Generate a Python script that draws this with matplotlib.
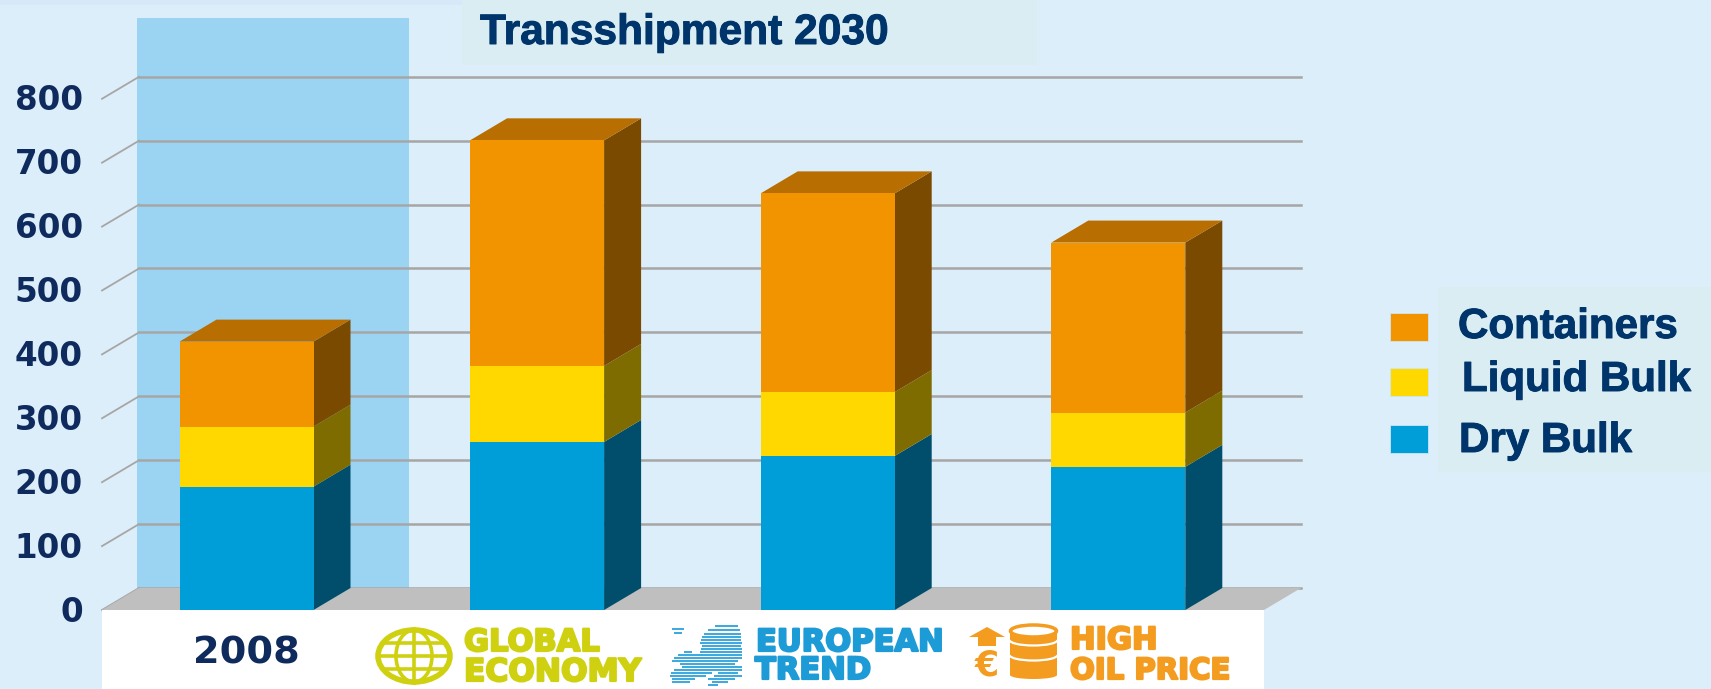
import matplotlib
matplotlib.use("Agg")
import matplotlib.pyplot as plt
import matplotlib.patheffects as pe
from matplotlib.patches import Rectangle, Ellipse, Polygon, Arc

# Datos
categorias = ["2008", "Global Economy", "European Trend", "High Oil Price"]
dry_bulk = [193, 263, 241, 224]
liquid_bulk = [94, 119, 100, 85]
containers = [133, 353, 311, 266]
ticks = [0, 100, 200, 300, 400, 500, 600, 700, 800]
series = ["Containers", "Liquid Bulk", "Dry Bulk"]

W, H = 1711, 689
AZUL_TXT = "#00356b"
AZUL_NUM = "#0f2a5c"
VERDE = "#cfd110"
AZUL = "#1c9bd6"
NARANJA = "#f39c1f"

fig = plt.figure(figsize=(W / 100, H / 100), dpi=100, facecolor="#dceefa")
plt.rcParams["font.family"] = ["Liberation Sans", "DejaVu Sans"]

# Ejes de datos: ocupan toda la figura, la escala sale de los pixeles de la referencia
px_x0, px_paso = 246.5, 290.6
px_y0, px_val = 610.0, 0.639
ax = fig.add_axes([0, 0, 1, 1])
ax.set_xlim(-px_x0 / px_paso, (W - px_x0) / px_paso)
ax.set_ylim((px_y0 - H) / px_val, px_y0 / px_val)
ax.axis("off")

dx = 37 / px_paso  # profundidad 3D
dy = 22 / px_val
ancho = 134 / px_paso
izq = (102 - px_x0) / px_paso
der = (1264 - px_x0) / px_paso

# Banda clara de 2008
ax.add_patch(Rectangle((-0.5 + dx - 0.005, dy), 272 / px_paso, (588 - 18) / px_val,
                       fc="#9bd4f2", ec="none", zorder=1))

# Lineas de la pared y marcas diagonales
for t in ticks:
    ax.plot([izq, izq + dx], [t, t + dy], color="#a6a6a6", lw=1.3, zorder=2)
    ax.plot([izq + dx, der + dx], [t + dy, t + dy], color="#a6a6a6", lw=1.8, zorder=2)
    ax.text(izq - 19 / px_paso, t - 2 / px_val, str(t), ha="right", va="center", fontsize=23.5,
            fontweight="bold", family="DejaVu Sans", color=AZUL_NUM, zorder=6)

# Suelo gris
ax.add_patch(Polygon([(izq, 0), (der, 0), (der + dx, dy), (izq + dx, dy)],
                     fc="#bfbfbf", ec="none", zorder=3))


def caja(x, y0, y1, frente, lado, techo=None):
    x0, x1 = x - ancho / 2, x + ancho / 2
    ax.add_patch(Polygon([(x1, y0), (x1 + dx, y0 + dy), (x1 + dx, y1 + dy), (x1, y1)],
                         fc=lado, ec="none", zorder=4))
    ax.add_patch(Rectangle((x0, y0), ancho, y1 - y0, fc=frente, ec="none", zorder=5))
    if techo:
        ax.add_patch(Polygon([(x0, y1), (x1, y1), (x1 + dx, y1 + dy), (x0 + dx, y1 + dy)],
                             fc=techo, ec="none", zorder=4))


for i in range(len(categorias)):
    a = dry_bulk[i]
    b = a + liquid_bulk[i]
    c = b + containers[i]
    caja(i, 0, a, "#009ed9", "#004e6c")
    caja(i, a, b, "#ffd800", "#7f6c00")
    caja(i, b, c, "#f29400", "#7a4a00", "#b86e00")

# Capa en pixeles para titulo, leyenda y logos
deco = fig.add_axes([0, 0, 1, 1], facecolor="none")
deco.set_xlim(0, W)
deco.set_ylim(H, 0)
deco.axis("off")
grueso = [pe.withStroke(linewidth=0.7, foreground=AZUL_TXT)]

deco.add_patch(Rectangle((0, 0), 462, 5, fc="#d7e9f8", ec="none"))
deco.add_patch(Rectangle((462, 0), 575, 65, fc="#daedf3", ec="none"))
deco.text(480, 44, "Transshipment 2030", fontsize=30.6, fontweight="bold",
          color=AZUL_TXT, va="baseline", path_effects=grueso)

# Leyenda
deco.add_patch(Rectangle((1438, 287), 273, 185, fc="#daedf3", ec="none"))
sw_y = [313, 368, 425]
txt_pos = [(1458, 338), (1462, 391), (1459, 452)]
sw_col = ["#f29400", "#ffd800", "#009ed9"]
for nombre, y, (tx, ty), col in zip(series, sw_y, txt_pos, sw_col):
    deco.add_patch(Rectangle((1390, y), 38, 28, fc=col, ec="#cfe6f5", lw=0.6))
    deco.text(tx, ty, nombre, fontsize=30.3, fontweight="bold", color=AZUL_TXT,
              va="baseline", path_effects=grueso)

# Franja blanca inferior
deco.add_patch(Rectangle((102, 610), 1162, 79, fc="white", ec="none"))
deco.text(246, 663, "2008", fontsize=27.5, fontweight="bold", family="DejaVu Sans",
          color=AZUL_NUM, ha="center", va="baseline")


def logo_txt(x, y, s, col, size=22):
    t = deco.text(x, y, s, fontsize=size, fontweight="bold", family="DejaVu Sans",
                  color=col, va="baseline")
    t.set_path_effects([pe.withStroke(linewidth=1.6, foreground=col)])


logo_txt(464, 651, "GLOBAL", VERDE)
logo_txt(464, 681, "ECONOMY", VERDE, 22.5)
logo_txt(756, 651, "EUROPEAN", AZUL)
logo_txt(755, 679, "TREND", AZUL)
logo_txt(1070, 649, "HIGH", NARANJA)
logo_txt(1070, 679, "OIL PRICE", NARANJA, 21)

# Globo
gx, gy = 414, 656
deco.add_patch(Ellipse((gx, gy), 72, 52, fc="none", ec=VERDE, lw=4))
deco.add_patch(Ellipse((gx, gy), 36, 52, fc="none", ec=VERDE, lw=2.6))
deco.plot([gx, gx], [gy - 27, gy + 27], color=VERDE, lw=2.6)
for off, mitad in [(-13, 31), (0, 36), (13, 31)]:
    deco.plot([gx - mitad, gx + mitad], [gy + off, gy + off], color=VERDE, lw=2.6)

# Mapa de Europa a rayas
rayas = [(626, 715, 738), (629, 672, 684), (630, 708, 740), (633, 674, 682), (634, 704, 741),
         (637, 702, 741), (640, 701, 741), (643, 700, 742), (646, 702, 741), (649, 701, 742),
         (652, 684, 692), (652, 700, 742), (655, 678, 742), (658, 674, 742), (661, 672, 738),
         (664, 680, 735), (667, 682, 742), (670, 674, 742), (673, 671, 712), (673, 718, 738),
         (676, 670, 706), (676, 714, 742), (679, 672, 695), (679, 708, 735), (682, 672, 690),
         (682, 712, 728), (685, 708, 718)]
for y, x0, x1 in rayas:
    deco.plot([x0, x1], [y, y], color="#3aa8de", lw=1.4, solid_capstyle="butt")

# Barril, flecha y euro
deco.add_patch(Polygon([(987, 627), (1005, 637), (996, 637), (996, 646), (978, 646), (978, 637), (969, 637)],
                       fc=NARANJA, ec="none"))
deco.text(987, 675, "€", fontsize=25, fontweight="bold", family="DejaVu Sans",
          color=NARANJA, ha="center", va="baseline")
deco.add_patch(Rectangle((1010, 632), 47, 43, fc=NARANJA, ec="none"))
deco.add_patch(Ellipse((1033.5, 675), 47, 8, fc=NARANJA, ec="none"))
for y in [640, 655]:
    deco.add_patch(Arc((1033.5, y), 48, 11, theta1=0, theta2=180, ec="white", lw=1.6))
deco.add_patch(Ellipse((1033.5, 631), 46, 12, fc="white", ec=NARANJA, lw=2.5))

fig.savefig("out.png", dpi=100, facecolor=fig.get_facecolor())
